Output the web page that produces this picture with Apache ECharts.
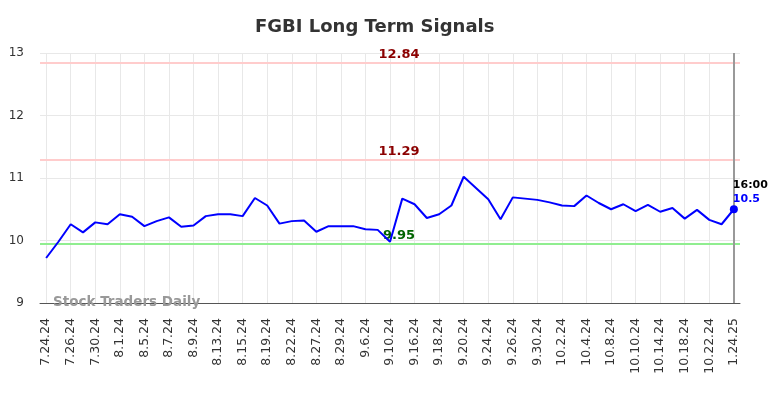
<!DOCTYPE html>
<html>
<head>
<meta charset="utf-8">
<script src="https://cdn.jsdelivr.net/npm/echarts@6/dist/echarts.min.js"></script>
<style>
  html, body { margin: 0; padding: 0; background: #fff; }
  #chart { width: 784px; height: 398px; }
</style>
</head>
<body>
<div id="chart"></div>
<script>
// dates (x axis)
var dates = [
  "7.24.24", "7.25.24", "7.26.24", "7.29.24", "7.30.24", "7.31.24", "8.1.24", "8.2.24",
  "8.5.24", "8.6.24", "8.7.24", "8.8.24", "8.9.24", "8.12.24", "8.13.24", "8.14.24",
  "8.15.24", "8.16.24", "8.19.24", "8.20.24", "8.22.24", "8.23.24", "8.27.24", "8.28.24",
  "8.29.24", "8.30.24", "9.6.24", "9.9.24", "9.10.24", "9.13.24", "9.16.24", "9.17.24",
  "9.18.24", "9.19.24", "9.20.24", "9.23.24", "9.24.24", "9.25.24", "9.26.24", "9.27.24",
  "9.30.24", "10.1.24", "10.2.24", "10.3.24", "10.4.24", "10.7.24", "10.8.24", "10.9.24",
  "10.10.24", "10.11.24", "10.14.24", "10.15.24", "10.18.24", "10.21.24", "10.22.24", "10.23.24",
  "1.24.25"
];
// closing prices
var prices = [
  9.72, 9.98, 10.26, 10.13, 10.29, 10.26, 10.42, 10.38,
  10.23, 10.31, 10.37, 10.22, 10.24, 10.39, 10.42, 10.42,
  10.39, 10.68, 10.56, 10.27, 10.31, 10.32, 10.14, 10.23,
  10.23, 10.23, 10.18, 10.17, 9.98, 10.67, 10.58, 10.36,
  10.42, 10.56, 11.02, 10.84, 10.66, 10.34, 10.69, 10.67,
  10.65, 10.61, 10.56, 10.55, 10.72, 10.60, 10.50, 10.58,
  10.47, 10.57, 10.46, 10.52, 10.35, 10.49, 10.33, 10.26,
  10.5
];
// signal levels
var resistance = [12.84, 11.29];
var support = [9.95];
var yTicks = [9, 10, 11, 12, 13];
var lastTime = "16:00";

var lastIdx = prices.length - 1;
var seriesData = prices.map(function (v, i) {
  if (i !== lastIdx) return v;
  return {
    value: v,
    symbol: "circle",
    symbolSize: 8,
    itemStyle: { color: "#0000ff", borderColor: "#0000ff", borderWidth: 0 },
    label: {
      show: true,
      position: [3, -27],
      align: "left",
      formatter: "{t|" + lastTime + "}\n{v|" + v + "}",
      rich: {
        t: { color: "#000", fontWeight: "bold", fontSize: 11, fontFamily: "DejaVu Sans", lineHeight: 14 },
        v: { color: "#0000ff", fontWeight: "bold", fontSize: 11, fontFamily: "DejaVu Sans", lineHeight: 14 }
      }
    }
  };
});

var levelLines = [];
resistance.forEach(function (r) {
  levelLines.push({
    yAxis: r,
    lineStyle: { color: "#ffcccc", width: 2, type: "solid" },
    label: { show: true, position: "insideMiddleTop", offset: [9, 0], distance: 2, formatter: String(r),
      color: "#8b0000", fontWeight: "bold", fontSize: 13, fontFamily: "DejaVu Sans" }
  });
});
support.forEach(function (s) {
  levelLines.push({
    yAxis: s,
    lineStyle: { color: "#90ee90", width: 2, type: "solid" },
    label: { show: true, position: "insideMiddleTop", offset: [9, 0], distance: 2, formatter: String(s),
      color: "#006400", fontWeight: "bold", fontSize: 13, fontFamily: "DejaVu Sans" }
  });
});
levelLines.push({
  xAxis: dates[lastIdx],
  lineStyle: { color: "#999999", width: 2, type: "solid" },
  label: { show: false }
});

var option = {
  backgroundColor: "#ffffff",
  animation: false,
  title: {
    text: "FGBI Long Term Signals",
    left: 250,
    top: 13,
    textStyle: { fontFamily: "DejaVu Sans", fontSize: 18, fontWeight: "bold", color: "#333" }
  },
  graphic: [{
    type: "text",
    left: 53,
    top: 295,
    style: { text: "Stock Traders Daily", fill: "#999", font: "bold 13.5px DejaVu Sans" },
    z: 100
  }],
  grid: { left: 40, right: 44, top: 53, bottom: 95 },
  xAxis: {
    type: "category",
    data: dates,
    boundaryGap: true,
    axisLine: { lineStyle: { color: "#555", width: 1 } },
    axisTick: { show: false },
    axisLabel: {
      interval: 1,
      rotate: 90,
      color: "#333",
      fontSize: 12.5,
      fontFamily: "DejaVu Sans",
      margin: 15
    },
    splitLine: { show: true, interval: 1, alignWithLabel: true, lineStyle: { color: "#e8e8e8", width: 1 } }
  },
  yAxis: {
    type: "value",
    min: yTicks[0],
    max: yTicks[yTicks.length - 1],
    interval: 1,
    axisLine: { show: false },
    axisTick: { show: false },
    axisLabel: { color: "#333", fontSize: 12, fontFamily: "DejaVu Sans", margin: 16 },
    splitLine: { lineStyle: { color: "#e8e8e8", width: 1 } }
  },
  series: [
    {
      // level lines sit under the price line
      type: "line",
      data: [],
      z: 1,
      markLine: {
        symbol: "none",
        silent: true,
        animation: false,
        data: levelLines
      }
    },
    {
      type: "line",
      data: seriesData,
      z: 5,
      symbol: "none",
      showSymbol: true,
      lineStyle: { color: "#0000ff", width: 2 },
      itemStyle: { color: "#0000ff" }
    }
  ]
};

var myChart = echarts.init(document.getElementById("chart"));
myChart.setOption(option);
</script>
</body>
</html>
